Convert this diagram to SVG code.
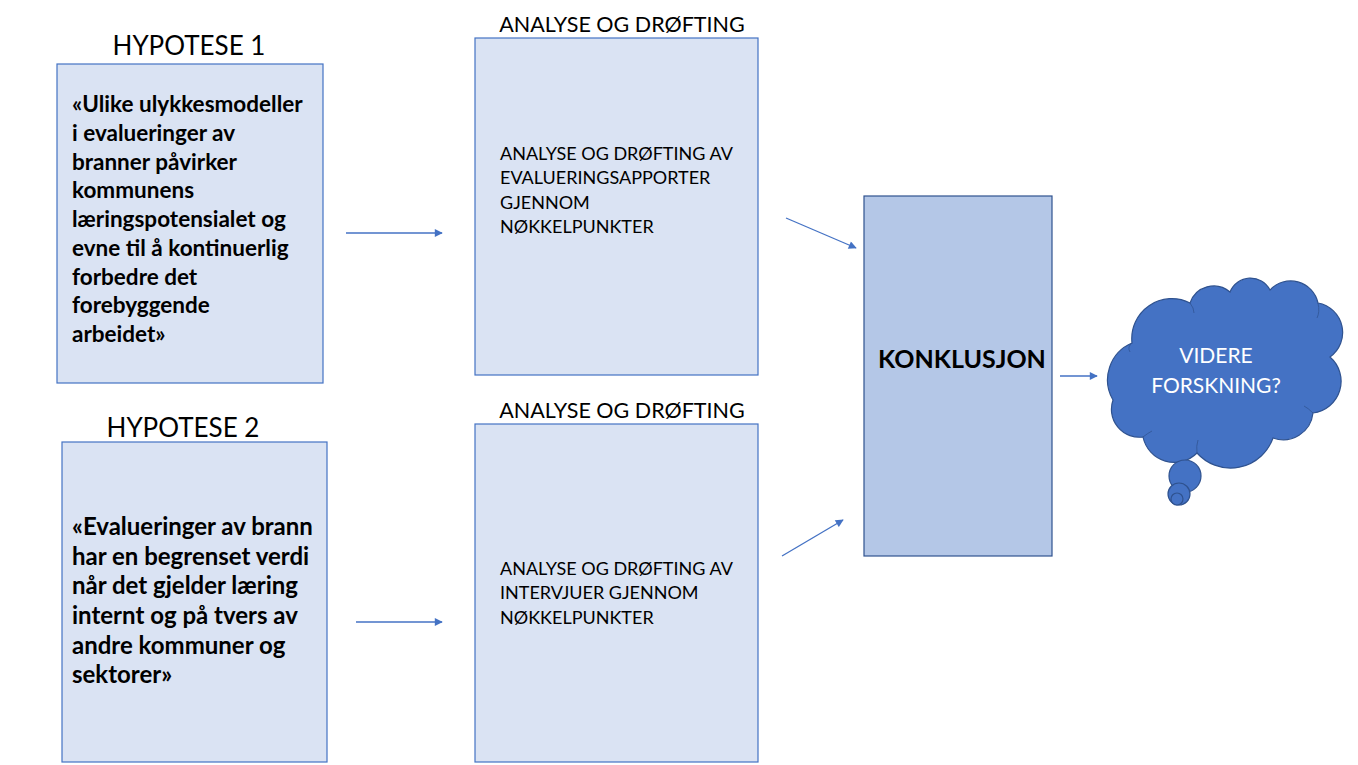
<svg xmlns="http://www.w3.org/2000/svg" width="1358" height="765" viewBox="0 0 1358 765">
  <style>
    .box { fill: #dae3f3; stroke: #4472c4; stroke-width: 1.2; }
    .conc { fill: #b4c7e7; stroke: #2f528f; stroke-width: 1.2; }
    .cloud { fill: #4472c4; stroke: #2f528f; stroke-width: 1.2; }
    .title { font-family: Lato, "Open Sans", sans-serif; font-size: 26px; fill: #000; }
    .sub { font-family: Lato, "Open Sans", sans-serif; font-size: 21.5px; fill: #000; }
    .hyp { font-family: Lato, "Open Sans", sans-serif; font-size: 22.5px; font-weight: bold; fill: #000; }
    .hyp2 { font-family: Lato, "Open Sans", sans-serif; font-size: 24px; font-weight: bold; fill: #000; }
    .body { font-family: Lato, "Open Sans", sans-serif; font-size: 18px; fill: #000; }
    .conc-t { font-family: Lato, "Open Sans", sans-serif; font-size: 25px; font-weight: bold; fill: #000; }
    .cloud-t { font-family: Lato, "Open Sans", sans-serif; font-size: 21px; fill: #fff; }
    .conn { stroke: #4472c4; stroke-width: 1.3; fill: none; marker-end: url(#arr); }
  </style>
  <defs>
    <marker id="arr" viewBox="0 0 10 10" refX="9" refY="5" markerWidth="9" markerHeight="8" markerUnits="userSpaceOnUse" orient="auto">
      <path d="M0,0 L10,5 L0,10 Z" fill="#4472c4"/>
    </marker>
  </defs>
  <rect width="1358" height="765" fill="#ffffff"/>

  <g id="hypotese1">
    <text class="title" x="189" y="55" text-anchor="middle">HYPOTESE 1</text>
    <rect class="box" x="57" y="64" width="266" height="319"/>
    <text class="hyp" x="72" y="112">«Ulike ulykkesmodeller</text>
    <text class="hyp" x="72" y="141">i evalueringer av</text>
    <text class="hyp" x="72" y="170">branner påvirker</text>
    <text class="hyp" x="72" y="198">kommunens</text>
    <text class="hyp" x="72" y="227">læringspotensialet og</text>
    <text class="hyp" x="72" y="256">evne til å kontinuerlig</text>
    <text class="hyp" x="72" y="285">forbedre det</text>
    <text class="hyp" x="72" y="313">forebyggende</text>
    <text class="hyp" x="72" y="342">arbeidet»</text>
  </g>

  <g id="hypotese2">
    <text class="title" x="183" y="437" text-anchor="middle">HYPOTESE 2</text>
    <rect class="box" x="62" y="442" width="265" height="320"/>
    <text class="hyp2" x="72" y="535">«Evalueringer av brann</text>
    <text class="hyp2" x="72" y="565">har en begrenset verdi</text>
    <text class="hyp2" x="72" y="594">når det gjelder læring</text>
    <text class="hyp2" x="72" y="624">internt og på tvers av</text>
    <text class="hyp2" x="72" y="654">andre kommuner og</text>
    <text class="hyp2" x="72" y="683">sektorer»</text>
  </g>

  <g id="analyse1">
    <text class="sub" x="622" y="32" text-anchor="middle">ANALYSE OG DRØFTING</text>
    <rect class="box" x="475" y="38" width="283" height="337"/>
    <text class="body" x="500" y="160">ANALYSE OG DRØFTING AV</text>
    <text class="body" x="500" y="184">EVALUERINGSAPPORTER</text>
    <text class="body" x="500" y="209">GJENNOM</text>
    <text class="body" x="500" y="233">NØKKELPUNKTER</text>
  </g>

  <g id="analyse2">
    <text class="sub" x="622" y="418" text-anchor="middle">ANALYSE OG DRØFTING</text>
    <rect class="box" x="475" y="424" width="283" height="338"/>
    <text class="body" x="500" y="575">ANALYSE OG DRØFTING AV</text>
    <text class="body" x="500" y="599">INTERVJUER GJENNOM</text>
    <text class="body" x="500" y="624">NØKKELPUNKTER</text>
  </g>

  <g id="konklusjon">
    <rect class="conc" x="864" y="196" width="188" height="360"/>
    <text class="conc-t" x="962" y="368" text-anchor="middle">KONKLUSJON</text>
  </g>

  <g id="videre-forskning">
    <!-- thought-bubble outline built from lobed arcs -->
    <path class="cloud" d="M1132,343 A40,40 0 0 1 1190,303 A25,25 0 0 1 1230,292 A22,22 0 0 1 1270,290 A28,28 0 0 1 1318,303 A30,30 0 0 1 1330,357 A32,32 0 0 1 1313,413 A30,30 0 0 1 1273,438 A45,45 0 0 1 1197,453 A32,32 0 0 1 1143,437 A28,28 0 0 1 1113,400 A40,40 0 0 1 1132,343 Z"/>
    <!-- inner lobe creases -->
    <g fill="none" stroke="#2f528f" stroke-width="1" opacity="0.7">
      <path d="M1132,343 Q1127,347 1130,352"/>
      <path d="M1190,303 Q1194,308 1194,313"/>
      <path d="M1318,303 Q1320,312 1317,318"/>
      <path d="M1313,413 Q1308,408 1304,406"/>
      <path d="M1197,453 Q1196,446 1198,440"/>
      <path d="M1143,437 Q1148,433 1152,431"/>
    </g>
    <circle class="cloud" cx="1185" cy="476" r="16"/>
    <circle class="cloud" cx="1179" cy="494" r="11"/>
    <circle class="cloud" cx="1177" cy="499" r="6"/>
    <text class="cloud-t" x="1216" y="363" text-anchor="middle">VIDERE</text>
    <text class="cloud-t" x="1216" y="393" text-anchor="middle">FORSKNING?</text>
  </g>

  <g id="connectors">
    <line class="conn" x1="346" y1="233" x2="442" y2="233"/>
    <line class="conn" x1="356" y1="622" x2="442" y2="622"/>
    <line class="conn" x1="786" y1="218" x2="856" y2="248"/>
    <line class="conn" x1="782" y1="556" x2="843" y2="520"/>
    <line class="conn" x1="1060" y1="376" x2="1097" y2="376"/>
  </g>
</svg>
